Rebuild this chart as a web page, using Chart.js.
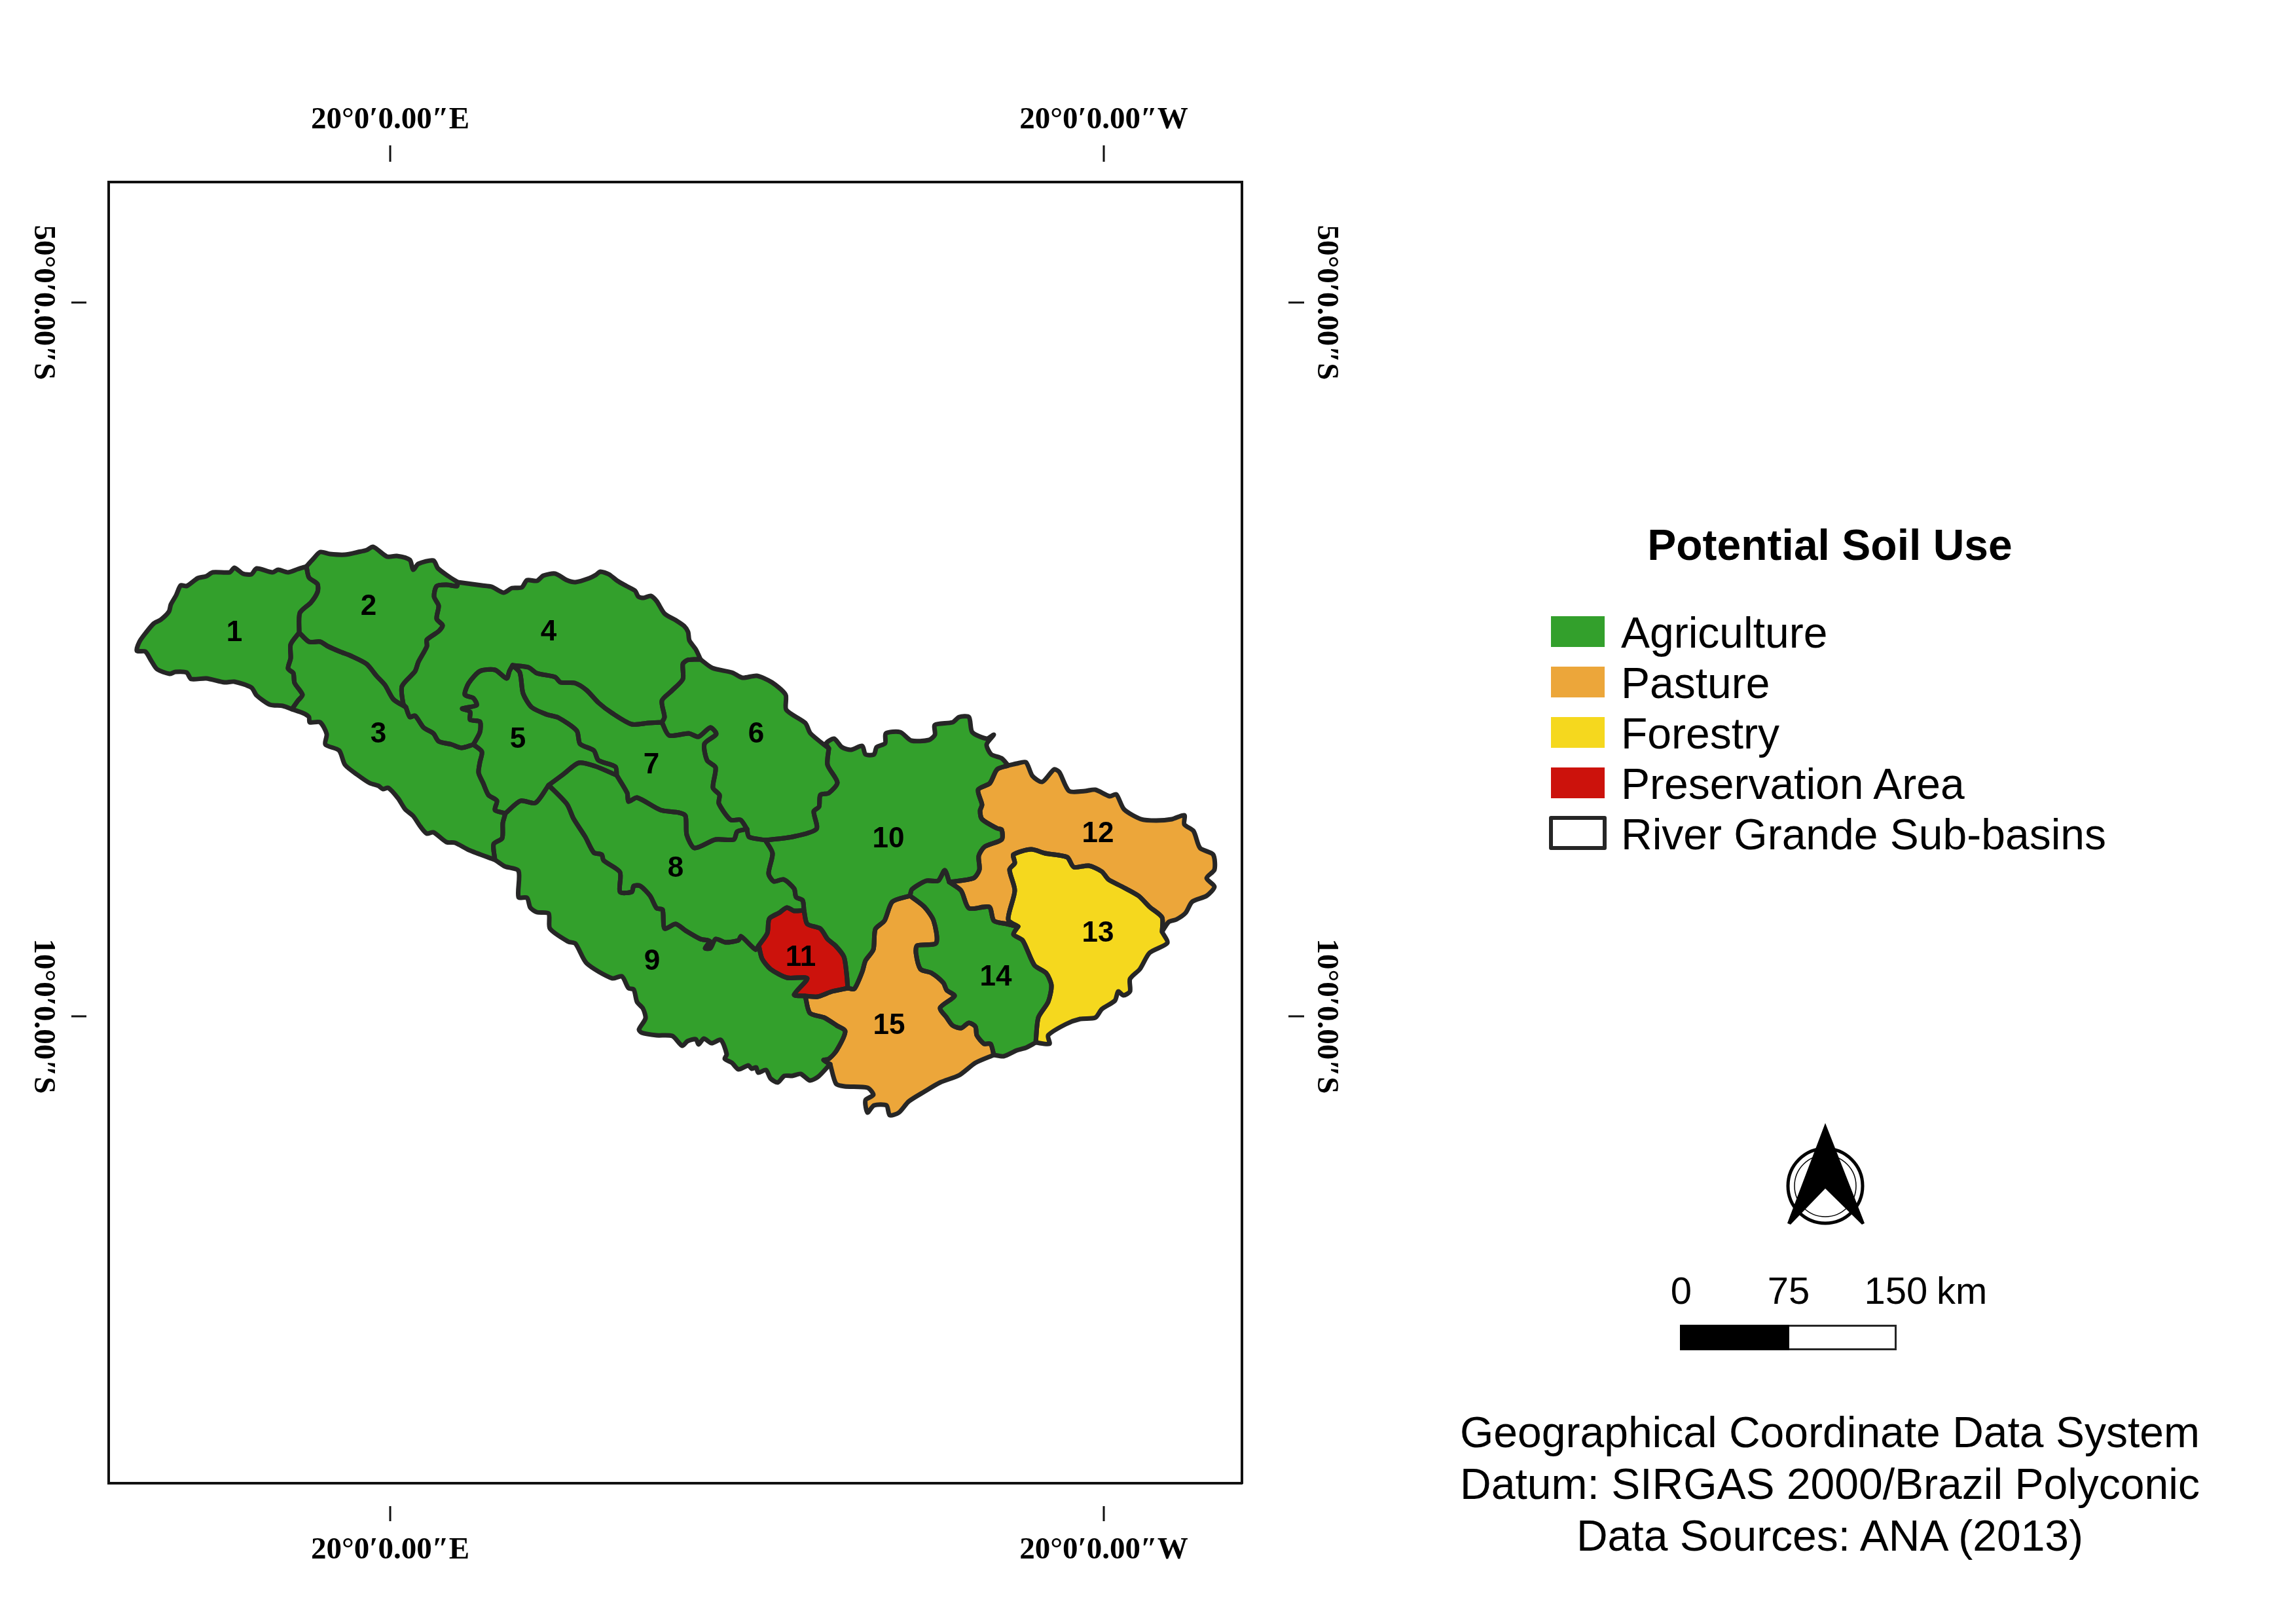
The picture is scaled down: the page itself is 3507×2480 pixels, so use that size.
<!DOCTYPE html>
<html>
<head>
<meta charset="utf-8">
<title>Potential Soil Use</title>
<script src="https://cdn.jsdelivr.net/npm/chart.js@4"></script>
<style>
html, body { margin: 0; padding: 0; background: #fff; }
#page { position: relative; width: 3507px; height: 2480px; overflow: hidden; font-family: "Liberation Sans", sans-serif; color: #000; }
#map { position: absolute; left: 0; top: 0; display: block; }
#page > div, #page > svg { position: absolute; line-height: 1; white-space: nowrap; }
.title { left: 2295px; width: 1000px; top: 799px; text-align: center; font-size: 66px; font-weight: bold; }
.swatch { left: 2369px; width: 82px; height: 47px; }
.swatch.outline { left: 2366px; width: 76px; height: 40px; border: 6px solid #262626; border-radius: 3px; background: #fff; }
.legend-text { left: 2476px; font-size: 66px; }
.scale-text { font-size: 58px; transform: translateX(-50%); }
.footer { left: 2095px; width: 1400px; text-align: center; font-size: 66px; }
</style>
</head>
<body>
<div id="page">
  <canvas id="map" width="3507" height="2480"></canvas>
  <div class="title">Potential Soil Use</div>
  <svg id="north" style="left:2720px;top:1705px" width="136" height="175" viewBox="2720 1705 136 175">
    <circle cx="2788" cy="1811" r="57" fill="none" stroke="#000" stroke-width="5"/>
    <circle cx="2788" cy="1811" r="47" fill="none" stroke="#000" stroke-width="1.5"/>
    <polygon points="2788,1715 2848,1868 2844,1870 2788,1815 2735,1870 2730,1868" fill="#000"/>
  </svg>
  <div style="left:2566px;top:2023px;width:167px;height:39px;background:#000"></div>
  <div style="left:2733px;top:2023px;width:161px;height:33px;border:3px solid #262626;border-left:0;background:#fff"></div>
  <div class="footer" style="top:2154px">Geographical Coordinate Data System</div>
  <div class="footer" style="top:2233px">Datum: SIRGAS 2000/Brazil Polyconic</div>
  <div class="footer" style="top:2312px">Data Sources: ANA (2013)</div>
</div>
<script>
// map grid units
const xLimits = [-432, 1299];
const yLimits = [-185, 1802];
const xTickValues = [-2, 1088];
const yTickValues = [-1, 1089];
const xTickLabels = ["20°0′0.00″E", "20°0′0.00″W"];
const yTickLabels = ["50°0′0.00″S", "10°0′0.00″S"];

const GREEN = "#33a02c", ORANGE = "#eca63a", YELLOW = "#f5d81e", RED = "#cc120c", LINE = "#262626";

const legendLabels = ["Agriculture", "Pasture", "Forestry", "Preservation Area", "River Grande Sub-basins"];
const legendColors = [GREEN, ORANGE, YELLOW, RED, null];
const scaleLabels = ["0", "75", "150"];

// sub-basin borders, each shared border is kept once
const outer1 = [[-130,402],[-143,406],[-158,411],[-173,407],[-182,411],[-206,405],[-214,414],[-227,413],[-240,404],[-247,411],[-273,411],[-283,417],[-296,420],[-313,432],[-322,431],[-329,446],[-337,460],[-340,471],[-352,483],[-363,489],[-375,503],[-385,517],[-389,531],[-376,532],[-367,546],[-358,559],[-339,566],[-330,563],[-313,564],[-306,574],[-283,573],[-255,579],[-240,578],[-214,587],[-206,599],[-186,613],[-166,615],[-152,620]];
const arc1_2 = [[-130,402],[-126,419],[-113,429],[-113,441],[-123,457],[-140,473],[-141,503]];
const arc1_3 = [[-141,503],[-154,521],[-154,542],[-158,558],[-150,565],[-148,580],[-136,598],[-143,607],[-152,620]];
const outer2 = [[-130,402],[-120,391],[-109,380],[-94,383],[-71,384],[-51,380],[-38,377],[-28,372],[-7,387],[8,386],[28,392],[33,407],[41,398],[64,393],[71,405],[87,417],[101,426]];
const arc2_4 = [[101,426],[100,432],[84,430],[69,432],[65,448],[72,462],[69,482],[78,492],[72,501],[54,514],[54,524],[41,548],[36,562],[16,585],[18,612],[22,617]];
const arc2_3 = [[-141,503],[-126,517],[-109,517],[-97,524],[-79,532],[-61,539],[-38,551],[-23,569],[-10,583],[3,605],[22,617]];
const arc3_4 = [[22,617],[28,632],[36,630],[49,648],[64,657],[72,669],[92,674],[107,679],[125,674]];
const arc4_5 = [[125,674],[135,655],[135,639],[120,636],[120,624],[108,619],[130,614],[125,603],[112,598],[118,580],[135,562],[158,560],[176,573],[180,562],[185,553]];
const arc4_7 = [[185,553],[209,556],[222,565],[250,571],[258,579],[280,580],[298,591],[316,610],[337,626],[367,643],[393,641],[413,640]];
const arc4_6 = [[413,640],[417,632],[413,607],[428,592],[445,574],[445,551],[452,545],[465,544],[472,544]];
const outer4 = [[101,426],[138,431],[153,433],[171,442],[184,435],[199,434],[207,423],[222,424],[232,416],[250,413],[268,423],[281,426],[302,420],[312,415],[319,410],[332,414],[345,424],[359,432],[372,439],[377,448],[385,450],[396,447],[405,455],[417,474],[434,484],[447,493],[453,502],[455,515],[465,529],[472,544]];
const outer3 = [[-152,620],[-135,626],[-126,632],[-125,640],[-109,640],[-99,658],[-101,674],[-80,683],[-71,705],[-51,721],[-33,733],[-20,737],[-13,742],[-5,740],[10,756],[21,773],[33,783],[44,799],[54,810],[64,808],[84,823],[97,824],[118,835],[158,850]];
const arc3_5 = [[125,674],[138,685],[135,701],[133,717],[140,733],[148,751],[161,760],[158,774],[174,779]];
const arc3_9 = [[174,779],[170,794],[169,817],[156,826],[158,850]];
const arc5_9 = [[174,779],[197,760],[220,763],[240,736]];
const arc5_8 = [[240,736],[263,719],[286,702],[311,707],[344,721]];
const arc5_7 = [[185,553],[196,564],[201,596],[214,617],[237,628],[255,633],[283,653],[288,673],[309,683],[316,698],[342,708],[344,721]];
const arc7_8 = [[344,721],[360,748],[362,761],[375,755],[411,774],[439,778],[449,783],[451,812],[463,832],[495,819],[523,819],[528,807],[543,803]];
const arc6_7 = [[413,640],[424,660],[454,657],[469,662],[487,648],[496,658],[478,673],[482,698],[495,709],[491,740],[501,751],[500,764],[518,789],[533,789],[543,803]];
const arc6_8 = [[543,803],[546,815],[571,820]];
const arc6_10 = [[668,680],[666,705],[681,732],[668,748],[655,751],[653,769],[645,776],[649,803],[612,815],[571,820]];
const outer6 = [[472,544],[490,557],[520,564],[536,572],[558,569],[581,579],[602,598],[603,621],[632,641],[640,657],[668,680]];
const arc8_10 = [[571,820],[582,840],[576,871],[584,883],[599,880],[615,894],[618,907],[628,912],[630,927]];
const arc8_9 = [[240,736],[268,765],[278,787],[296,815],[309,839],[321,842],[324,851],[349,869],[349,899],[367,899],[370,890],[380,890],[395,905],[405,924],[414,926],[417,955],[434,948],[449,958],[472,971],[486,974],[479,985],[487,985],[495,971],[510,976],[530,973],[534,967],[556,987],[561,981]];
const arc8_11 = [[561,981],[574,962],[577,940],[592,931],[604,923],[615,928],[630,927]];
const arc9_11 = [[561,981],[566,1001],[579,1017],[604,1030],[635,1031],[615,1056],[632,1058]];
const arc9_15 = [[632,1058],[639,1084],[661,1091],[680,1103],[693,1112],[680,1141],[668,1154],[660,1156],[670,1162]];
const outer9 = [[158,850],[173,860],[194,867],[194,907],[207,908],[212,923],[222,930],[240,932],[242,955],[270,975],[281,978],[298,1008],[337,1031],[352,1028],[362,1046],[370,1048],[375,1067],[384,1077],[388,1092],[378,1109],[382,1114],[405,1118],[429,1119],[444,1134],[452,1127],[465,1124],[469,1132],[477,1123],[489,1130],[503,1125],[512,1147],[509,1154],[520,1160],[530,1170],[545,1164],[550,1169],[557,1167],[560,1175],[572,1171],[579,1184],[590,1190],[600,1180],[612,1180],[625,1177],[639,1187],[652,1181],[670,1162]];
const arc10_11 = [[630,927],[635,948],[655,955],[666,971],[678,981],[691,998],[695,1023],[697,1046]];
const arc11_15 = [[632,1058],[651,1059],[673,1051],[697,1046]];
const arc10_15 = [[697,1046],[707,1047],[719,1021],[724,1004],[736,987],[739,956],[753,943],[765,914],[792,905]];
const arc10_14 = [[792,905],[795,895],[817,882],[835,882],[845,866],[852,884]];
const arc10_12 = [[852,884],[889,878],[898,865],[897,844],[906,830],[932,819],[932,804],[925,802],[902,788],[899,775],[902,766],[896,743],[914,733],[925,712],[942,706]];
const outer10 = [[668,680],[664,672],[676,665],[688,678],[702,682],[719,676],[724,689],[737,689],[741,678],[754,672],[755,657],[777,655],[794,668],[821,667],[830,659],[830,644],[857,640],[867,632],[882,632],[887,655],[909,665],[920,659],[909,674],[916,689],[932,695],[942,706]];
const outer12 = [[942,706],[955,703],[969,701],[979,722],[994,731],[1012,712],[1020,716],[1035,745],[1059,745],[1075,743],[1097,753],[1107,750],[1119,773],[1145,788],[1168,790],[1192,788],[1211,782],[1211,796],[1225,806],[1235,832],[1255,842],[1257,865],[1245,878],[1257,891],[1245,905],[1223,914],[1213,931],[1199,941],[1187,945],[1177,960]];
const arc12_13 = [[957,952],[942,941],[952,897],[944,865],[952,855],[950,842],[977,834],[998,840],[1032,846],[1042,861],[1065,859],[1085,868],[1095,880],[1116,891],[1141,905],[1158,922],[1177,938],[1177,960]];
const arc12_14 = [[852,884],[870,897],[882,924],[913,922],[920,943],[940,948],[957,952]];
const arc13_14 = [[957,952],[950,964],[964,973],[982,1011],[1000,1023],[1008,1042],[1003,1067],[988,1091],[984,1129]];
const outer13 = [[1177,960],[1185,977],[1158,992],[1143,1017],[1128,1032],[1128,1051],[1118,1057],[1110,1051],[1105,1065],[1085,1078],[1075,1091],[1052,1093],[1030,1101],[1003,1118],[1005,1131],[984,1129]];
const outer14 = [[984,1129],[969,1137],[955,1141],[935,1150],[920,1148]];
const arc14_15 = [[792,905],[814,922],[828,943],[832,977],[803,981],[801,992],[808,1017],[825,1023],[843,1038],[848,1049],[860,1058],[838,1076],[848,1091],[857,1103],[870,1107],[882,1099],[892,1105],[894,1118],[905,1131],[915,1131],[920,1148]];
const outer15 = [[920,1148],[892,1160],[867,1179],[838,1190],[814,1204],[790,1219],[775,1236],[761,1240],[756,1225],[737,1225],[727,1236],[724,1217],[736,1209],[727,1198],[692,1196],[679,1192],[670,1162]];

const rev = arc => [...arc].reverse();

// the ring of each sub-basin, made of the borders above
const basinRings = [
    [outer1, rev(arc1_3), rev(arc1_2)],
    [outer2, arc2_4, rev(arc2_3), rev(arc1_2)],
    [arc1_3, outer3, rev(arc3_9), rev(arc3_5), rev(arc3_4), rev(arc2_3)],
    [outer4, rev(arc4_6), rev(arc4_7), rev(arc4_5), rev(arc3_4), rev(arc2_4)],
    [arc4_5, arc5_7, rev(arc5_8), rev(arc5_9), rev(arc3_5)],
    [outer6, arc6_10, rev(arc6_8), rev(arc6_7), arc4_6],
    [arc4_7, arc6_7, rev(arc7_8), rev(arc5_7)],
    [arc5_8, arc7_8, arc6_8, arc8_10, rev(arc8_11), rev(arc8_9)],
    [arc5_9, arc8_9, arc9_11, arc9_15, rev(outer9), rev(arc3_9)],
    [outer10, rev(arc10_12), rev(arc10_14), rev(arc10_15), rev(arc10_11), rev(arc8_10), rev(arc6_10)],
    [arc8_11, arc10_11, rev(arc11_15), rev(arc9_11)],
    [arc10_12, outer12, rev(arc12_13), rev(arc12_14)],
    [arc12_13, outer13, rev(arc13_14)],
    [arc12_14, arc13_14, outer14, rev(arc14_15), arc10_14],
    [arc10_15, arc14_15, outer15, rev(arc9_15), arc11_15],
];
const basinColors = [GREEN, GREEN, GREEN, GREEN, GREEN, GREEN, GREEN, GREEN, GREEN, GREEN, RED, ORANGE, YELLOW, GREEN, ORANGE];
const basinLabelX = [-240, -35, -20, 240, 193, 557, 397, 434, 398, 759, 625, 1079, 1079, 923, 760];
const basinLabelY = [504, 464, 659, 503, 667, 659, 706, 864, 1006, 819, 1000, 811, 963, 1030, 1104];

const page = document.getElementById("page");

function addText(cls, text, left, top) {
    const div = document.createElement("div");
    div.className = cls;
    div.textContent = text;
    div.style.left = left + "px";
    div.style.top = top + "px";
    page.appendChild(div);
}

// legend rows
legendLabels.forEach((label, i) => {
    const top = 941 + i * 77;
    const box = document.createElement("div");
    box.className = legendColors[i] ? "swatch" : "swatch outline";
    box.style.top = (legendColors[i] ? top : top - 3) + "px";
    if (legendColors[i]) box.style.background = legendColors[i];
    page.appendChild(box);
    addText("legend-text", label, 2476, top - 8);
});

// scale bar labels, 0 / 75 / 150 km
[2568, 2732, 2896].forEach((left, i) => addText("scale-text", scaleLabels[i], left, 1942));
addText("legend-text", "km", 2958, 1942);
page.lastChild.style.fontSize = "58px";

// graticule marks float off the frame, so the grid ticks can't be used
const floatingTicks = {
    id: "floatingTicks",
    afterDraw(chart) {
        const { ctx, chartArea: a, scales } = chart;
        ctx.save();
        ctx.strokeStyle = "#111";
        ctx.lineWidth = 3;
        ctx.beginPath();
        xTickValues.forEach(v => {
            const px = scales.x.getPixelForValue(v);
            ctx.moveTo(px, a.top - 56); ctx.lineTo(px, a.top - 31);
            ctx.moveTo(px, a.bottom + 35); ctx.lineTo(px, a.bottom + 58);
        });
        yTickValues.forEach(v => {
            const py = scales.y.getPixelForValue(v);
            ctx.moveTo(a.left - 57, py); ctx.lineTo(a.left - 34, py);
            ctx.moveTo(a.right + 71, py); ctx.lineTo(a.right + 95, py);
        });
        ctx.stroke();
        ctx.restore();
    },
};

const basinNumbers = {
    id: "basinNumbers",
    afterDatasetsDraw(chart) {
        const { ctx, scales } = chart;
        ctx.save();
        ctx.fillStyle = "#000";
        ctx.font = "bold 44px 'Liberation Sans'";
        ctx.textAlign = "center";
        ctx.textBaseline = "middle";
        basinLabelX.forEach((x, i) => {
            ctx.fillText(String(i + 1), scales.x.getPixelForValue(x), scales.y.getPixelForValue(basinLabelY[i]));
        });
        ctx.restore();
    },
};

function axis(position, axisName, limits, tickValues, tickLabels, size, extra) {
    return {
        type: "linear",
        axis: axisName,
        position,
        min: limits[0],
        max: limits[1],
        reverse: axisName === "y",
        border: { display: true, color: "#111", width: 4 },
        grid: { drawOnChartArea: false, drawTicks: false },
        afterBuildTicks(scale) { scale.ticks = tickValues.map(value => ({ value })); },
        afterFit(scale) {
            if (axisName === "x") scale.height = size; else scale.width = size;
        },
        ticks: Object.assign({
            autoSkip: false,
            color: "#000",
            font: { family: "'Liberation Serif'", weight: "bold", size: 47 },
            callback: (value, i) => tickLabels[i],
        }, extra),
    };
}

new Chart(document.getElementById("map"), {
    type: "scatter",
    data: {
        datasets: basinRings.map((ring, i) => {
            const points = ring.flat().map(p => ({ x: p[0], y: p[1] }));
            return {
                label: "Sub-basin " + (i + 1),
                data: points,
                showLine: true,
                fill: "shape",
                backgroundColor: basinColors[i],
                borderColor: LINE,
                borderWidth: 7,
                borderJoinStyle: "round",
                borderCapStyle: "round",
                pointRadius: 0,
                pointHoverRadius: 0,
                tension: 0.25,
            };
        }),
    },
    options: {
        responsive: false,
        animation: false,
        devicePixelRatio: 1,
        layout: { padding: 0 },
        plugins: {
            legend: { display: false },
            tooltip: { enabled: false },
            filler: { drawTime: "beforeDatasetsDraw" },
        },
        scales: {
            x: axis("bottom", "x", xLimits, xTickValues, xTickLabels, 215, { padding: 75, maxRotation: 0, minRotation: 0 }),
            xTop: axis("top", "x", xLimits, xTickValues, xTickLabels, 278, { padding: 66, maxRotation: 0, minRotation: 0 }),
            y: axis("left", "y", yLimits, yTickValues, yTickLabels, 166, { minRotation: -90, maxRotation: -90, crossAlign: "center", padding: -18 }),
            yRight: axis("right", "y", yLimits, yTickValues, yTickLabels, 1610, { minRotation: -90, maxRotation: -90, crossAlign: "center", padding: 10 }),
        },
    },
    plugins: [floatingTicks, basinNumbers],
});
</script>
</body>
</html>
